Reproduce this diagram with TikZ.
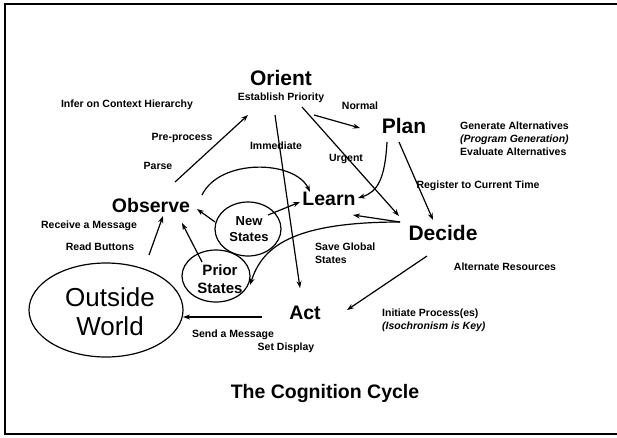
\documentclass[tikz,border=0pt]{standalone}
\usepackage{fontspec}
\setmainfont{Liberation Sans}
\usetikzlibrary{arrows.meta,shapes.geometric}
\begin{document}
\begin{tikzpicture}[x=1pt,y=-1pt,
  lbl/.style={font=\bfseries\fontsize{10.5}{12.8}\selectfont, inner sep=0pt},
  ilbl/.style={font=\bfseries\itshape\fontsize{10.5}{12.8}\selectfont, inner sep=0pt},
  big/.style={font=\bfseries\fontsize{21}{24}\selectfont, inner sep=0pt},
  mid/.style={font=\bfseries\fontsize{19.5}{22}\selectfont, inner sep=0pt},
  arr/.style={-{Stealth[length=7pt,width=5pt]}, line width=1.2pt},
  oval/.style={draw, ellipse, line width=1.2pt, inner sep=0pt}
]
\useasboundingbox (0,0) rectangle (617,437);
\draw[line width=2pt] (617,4) -- (4.5,4) -- (4.5,434) -- (617,434);

% main words
\node[big] (orient) at (281,78) {Orient};
\node[big] (plan) at (404,126) {Plan};
\node[mid] (learn) at (329,199) {Learn};
\node[mid] (observe) at (151,206) {Observe};
\node[big] (decide) at (443,233) {Decide};
\node[mid] (act) at (305,313) {Act};

% ellipses
\node[oval, minimum width=154pt, minimum height=94pt] (world) at (106,310) {};
\node[font=\fontsize{26}{29}\selectfont, align=center, inner sep=0pt] (worldt) at (110,312) {Outside\\World};
\node[oval, minimum width=66pt, minimum height=54pt] (newst) at (248,229) {};
\node[font=\bfseries\fontsize{13}{16}\selectfont, align=center, inner sep=0pt] (newstt) at (249,229) {New\\States};
\node[oval, minimum width=68pt, minimum height=52pt] (prior) at (216,276) {};
\node[font=\bfseries\fontsize{15}{18}\selectfont, align=center, inner sep=0pt] (priort) at (220,279) {Prior\\States};

% labels
\node[lbl] (estab) at (281,98) {Establish Priority};
\node[lbl] (infer) at (127,105) {Infer on Context Hierarchy};
\node[lbl] (prep) at (182,138) {Pre-process};
\node[lbl] (parse) at (158,166) {Parse};
\node[lbl] (immed) at (276,146) {Immediate};
\node[lbl] (normal) at (360,106) {Normal};
\node[lbl] (urgent) at (346,159) {Urgent};
\node[lbl, align=left, anchor=west] (gen) at (460,138.5) {Generate Alternatives\\\textit{(Program Generation)}\\Evaluate Alternatives};
\node[lbl] (reg) at (478,186) {Register to Current Time};
\node[lbl] (recv) at (89,226) {Receive a Message};
\node[lbl] (read) at (100,247) {Read Buttons};
\node[lbl, align=left, anchor=west] (save) at (315,253.5) {Save Global\\States};
\node[lbl] (altres) at (505,267) {Alternate Resources};
\node[lbl, align=left, anchor=west] (init) at (382,320.5) {Initiate Process(es)\\\textit{(Isochronism is Key)}};
\node[lbl] (send) at (233,335) {Send a Message};
\node[lbl] (setd) at (286,348) {Set Display};
\node[font=\bfseries\fontsize{19.5}{22}\selectfont, inner sep=0pt] (title) at (325,393) {The Cognition Cycle};

% connector end points
\coordinate (o1) at (175,182); \coordinate (o2) at (248,115);
\coordinate (n1) at (314,115); \coordinate (n2) at (360,128);
\coordinate (u1) at (302,107); \coordinate (u2) at (399,216);
\coordinate (i1) at (275,115); \coordinate (i2) at (300,288);
\coordinate (pl1) at (387,142); \coordinate (pl2) at (358,198);
\coordinate (pd1) at (399,142); \coordinate (pd2) at (433,220);
\coordinate (dl1) at (400,222); \coordinate (dl2) at (353,215);
\coordinate (dp2) at (250,285);
\coordinate (ol1) at (202,195); \coordinate (ol2) at (310,192);
\coordinate (nl1) at (268,215); \coordinate (nl2) at (300,202);
\coordinate (no1) at (215,222); \coordinate (no2) at (197,209);
\coordinate (po1) at (202,262); \coordinate (po2) at (182,223);
\coordinate (wo1) at (149,255); \coordinate (wo2) at (163,216);
\coordinate (aw1) at (262,317); \coordinate (aw2) at (183,317);
\coordinate (da1) at (427,256); \coordinate (da2) at (347,310);

% connectors
\draw[arr] (o1) -- (o2);
\draw[arr] (n1) -- (n2);
\draw[arr] (u1) -- (u2);
\draw[arr] (i1) -- (i2);
\draw[arr] (pl1) .. controls (385,178) and (378,192) .. (pl2);
\draw[arr] (pd1) -- (pd2);
\draw[arr] (dl1) -- (dl2);
\draw[arr] (dl1) .. controls (290,222) and (262,248) .. (dp2);
\draw[arr] (ol1) .. controls (220,158) and (295,160) .. (ol2);
\draw[arr] (nl1) -- (nl2);
\draw[arr] (no1) -- (no2);
\draw[arr] (po1) -- (po2);
\draw[arr] (wo1) -- (wo2);
\draw[arr] (aw1) -- (aw2);
\draw[arr] (da1) -- (da2);
\end{tikzpicture}
\end{document}
